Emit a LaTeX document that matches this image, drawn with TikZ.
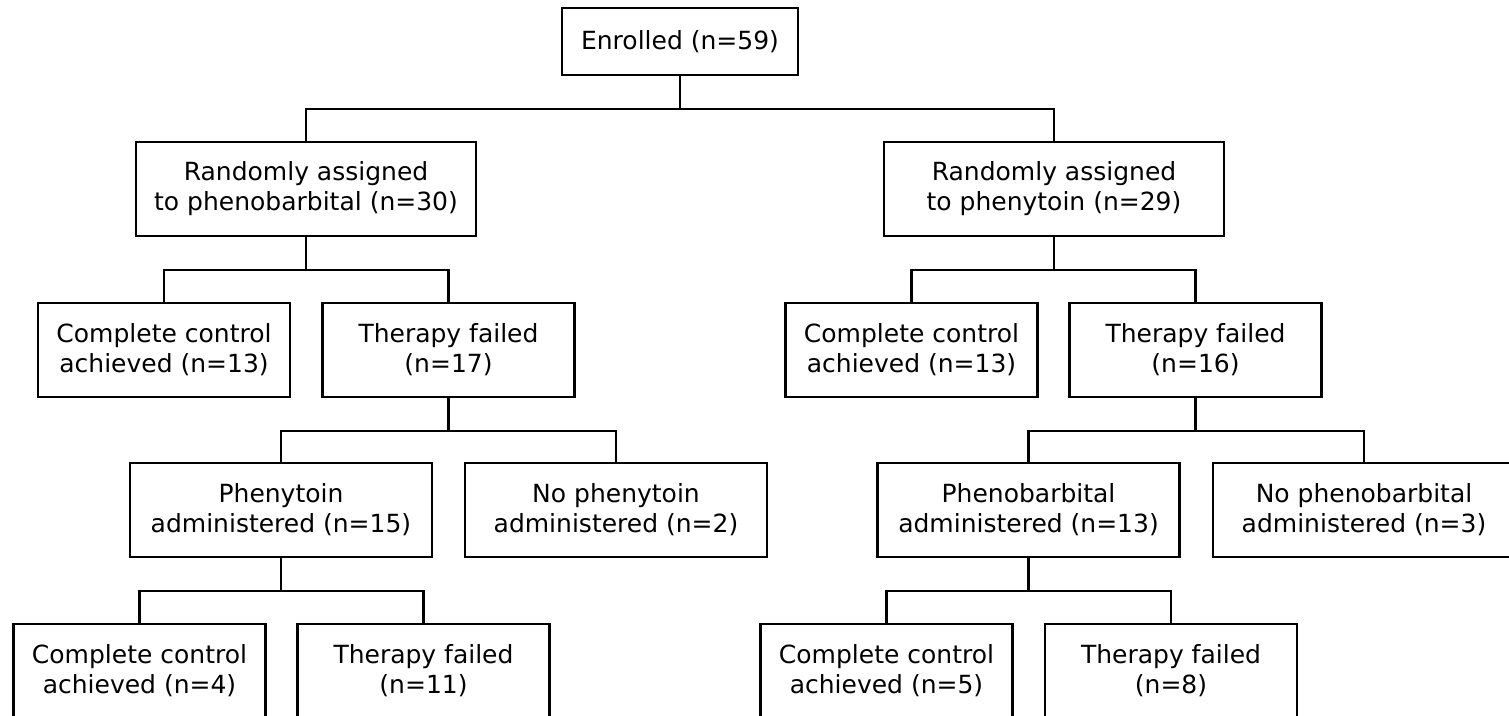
\documentclass[tikz,border=0pt]{standalone}
\usepackage{fontspec}
\setmainfont{DejaVu Sans}
\usepackage{tikz}
\tikzstyle{FlowBox}=[rectangle, draw=black, line width=1.2pt, align=center, inner sep=0pt, minimum width=126pt, minimum height=47pt, font=\fontsize{12.5}{15}\selectfont]
\tikzstyle{WideBox}=[FlowBox, minimum width=151pt]
\tikzstyle{ArmBox}=[FlowBox, minimum width=170pt]
\tikzstyle{Link}=[line width=1.2pt]

\begin{document}
\begin{tikzpicture}[x=0.5pt, y=-0.5pt]
      \clip (0,0) rectangle (1509,716);
      \node[FlowBox, minimum width=118pt, minimum height=33.5pt] (1) at (680,41.5) {Enrolled (n=59)};
      \node[ArmBox] (2) at (306,189) {Randomly assigned\\to phenobarbital (n=30)};
      \node[ArmBox] (3) at (1054,189) {Randomly assigned\\to phenytoin (n=29)};
      \node[FlowBox] (4) at (164,350) {Complete control\\achieved (n=13)};
      \node[FlowBox] (5) at (448.5,350) {Therapy failed\\(n=17)};
      \node[FlowBox] (6) at (911.5,350) {Complete control\\achieved (n=13)};
      \node[FlowBox] (7) at (1195.5,350) {Therapy failed\\(n=16)};
      \node[WideBox] (8) at (281,510) {Phenytoin\\administered (n=15)};
      \node[WideBox] (9) at (616,510) {No phenytoin\\administered (n=2)};
      \node[WideBox] (10) at (1028.5,510) {Phenobarbital\\administered (n=13)};
      \node[WideBox] (11) at (1364,510) {No phenobarbital\\administered (n=3)};
      \node[FlowBox] (12) at (139.5,671) {Complete control\\achieved (n=4)};
      \node[FlowBox] (13) at (423.5,671) {Therapy failed\\(n=11)};
      \node[FlowBox] (14) at (886.5,671) {Complete control\\achieved (n=5)};
      \node[FlowBox] (15) at (1171,671) {Therapy failed\\(n=8)};
      % elbow links, parent down to a bar, then down to each child
      \draw[Link] (1.south) -- ++(0,33) -| (2.north);
      \draw[Link] (1.south) -- ++(0,33) -| (3.north);
      \draw[Link] (2.south) -- ++(0,33) -| (4.north);
      \draw[Link] (2.south) -- ++(0,33) -| (5.north);
      \draw[Link] (3.south) -- ++(0,33) -| (6.north);
      \draw[Link] (3.south) -- ++(0,33) -| (7.north);
      \draw[Link] (5.south) -- ++(0,33) -| (8.north);
      \draw[Link] (5.south) -- ++(0,33) -| (9.north);
      \draw[Link] (7.south) -- ++(0,33) -| (10.north);
      \draw[Link] (7.south) -- ++(0,33) -| (11.north);
      \draw[Link] (8.south) -- ++(0,33) -| (12.north);
      \draw[Link] (8.south) -- ++(0,33) -| (13.north);
      \draw[Link] (10.south) -- ++(0,33) -| (14.north);
      \draw[Link] (10.south) -- ++(0,33) -| (15.north);
\end{tikzpicture}
\end{document}
